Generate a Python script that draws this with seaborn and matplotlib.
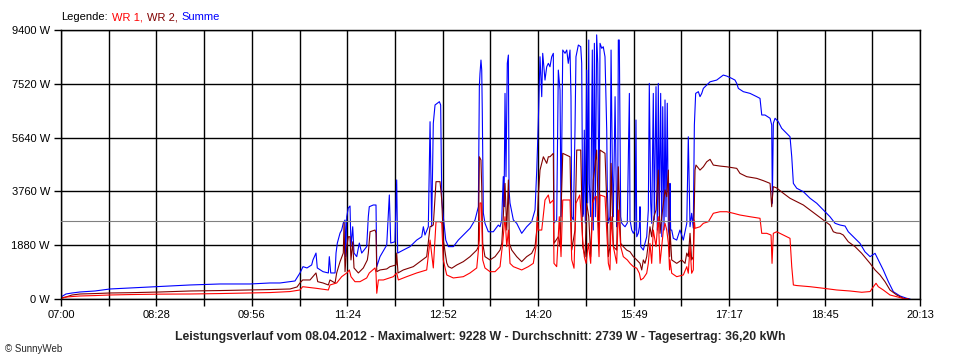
import numpy as np
import pandas as pd
import matplotlib
matplotlib.use("Agg")
import matplotlib.pyplot as plt
from matplotlib.offsetbox import TextArea, HPacker, AnchoredOffsetbox
import seaborn as sns

# AXIS DATA (time in minutes after 07:00)
time_labels = ["07:00", "08:28", "09:56", "11:24", "12:52",
               "14:20", "15:49", "17:17", "18:45", "20:13"]
day_minutes = 793
watt_ticks = [0, 1880, 3760, 5640, 7520, 9400]
avg_watt = 2739

title_text = ("Leistungsverlauf vom 08.04.2012 - Maximalwert: 9228 W - "
              "Durchschnitt: 2739 W - Tagesertrag: 36,20 kWh")

# SERIES (minute, watt)
summe = [
    (0, 70), (4.6, 175), (10.2, 210), (17.5, 245), (31.4, 280), (45.2, 350), (63.7, 385),
    (91.4, 435), (119.1, 490), (146.8, 525), (174.5, 525), (193, 560), (202.2, 560),
    (216, 630), (220.6, 910), (223.4, 1130), (227.1, 1085), (231.4, 1190), (232.6, 1365),
    (235.4, 1605), (236.6, 1085), (241.9, 955), (246.8, 910), (247.7, 1480), (249, 910),
    (253, 910), (253.9, 1605), (255.1, 1955), (257.6, 2305), (259.1, 2410), (260.6, 2655),
    (262.2, 2760), (262.8, 1480), (263.8, 2875), (265.2, 3180), (266.8, 3250), (267.7, 1830),
    (269.3, 2525), (270.5, 1605), (273, 1480), (275.4, 1955), (277.6, 1605), (282.2, 1830),
    (283.7, 2875), (284.6, 3225), (288.3, 3285), (290.8, 3285), (291.5, 1130), (294.5, 1480),
    (300.7, 1885), (303.1, 3635), (304.4, 1955), (308.3, 2000), (309.9, 4160), (310.8, 1605),
    (316, 1710), (322.2, 1830), (328.4, 2060), (333, 2175), (334.5, 2525), (336, 2235),
    (339.1, 2525), (340.7, 6195), (342.2, 2525), (343.7, 6140), (345.3, 6780), (349.3, 6895),
    (350.5, 6780), (351.5, 3460), (352.9, 2875), (355.2, 2060), (357.6, 1830), (362.2, 1830),
    (366.8, 2060), (371.4, 2235), (377.6, 2470), (382.2, 2760), (385.3, 3225), (386.2, 7420),
    (386.8, 7885), (387.7, 8350), (388.4, 8000), (388.9, 6605), (389.9, 3005), (391.4, 2645),
    (394.5, 2350), (399.1, 2350), (403.7, 2585), (405.3, 2525), (406.9, 2760), (407.4, 3355),
    (408.3, 4275), (409, 3225), (409.9, 7185), (410.8, 4275), (412, 8235), (413, 8525),
    (413.6, 3810), (414.5, 3355), (417.6, 2760), (420.7, 2645), (425.3, 2295), (429.9, 2525),
    (434.5, 2700), (437.6, 3110), (439.2, 4505), (440.6, 6140), (442.2, 8465), (443.8, 7070),
    (444.7, 8585), (446.8, 7650), (448.4, 8115), (449.9, 8235), (451.4, 8115), (453, 8465),
    (454.5, 8585), (455.1, 2655), (457.6, 2760), (459.1, 8000), (460.7, 7300), (461.6, 2875),
    (463.2, 8700), (465.3, 8585), (466.9, 8700), (468.3, 8235), (469.9, 8700), (470.8, 7070),
    (471.5, 2875), (473, 2760), (474.5, 5900), (475.4, 8465), (477.6, 8875), (479.8, 8815),
    (480.7, 8235), (481.6, 2875), (482.2, 3005), (483.1, 5900), (484, 2655), (485.3, 8000),
    (486.2, 3355), (487.2, 9050), (487.7, 4040), (489, 2875), (490.5, 8700), (491.4, 2410),
    (492.4, 8935), (493.3, 2875), (494.5, 9230), (495.5, 8235), (496.7, 2875), (497.6, 8935),
    (499.2, 8760), (500.6, 8815), (502.2, 8465), (503.8, 5900), (504.3, 3925), (505.3, 2655),
    (506.8, 2875), (507.8, 8700), (509, 4505), (509.9, 2875), (511.5, 7070), (513, 2525),
    (513.9, 2875), (514.5, 9050), (515.4, 9050), (516.7, 2875), (517.6, 2655), (519.1, 2585),
    (520.7, 2525), (522.8, 2655), (524.7, 7185), (525.3, 2760), (526.9, 2410), (528.4, 2295),
    (529.9, 2410), (530.8, 6255), (531.5, 2175), (533, 2305), (533.9, 2525), (534.5, 3225),
    (535.2, 1830), (537.6, 1710), (539.1, 1945), (540.7, 2175), (542.2, 3110), (543.1, 7535),
    (544.4, 3345), (545.3, 2645), (546.8, 7185), (547.7, 2760), (549.3, 7420), (550.5, 2410),
    (551.4, 7535), (552.3, 2875), (553.6, 7185), (554.6, 2175), (555.5, 6720), (556.7, 2410),
    (557.6, 6955), (558.5, 2875), (559.7, 6840), (560.7, 2410), (561.8, 2175), (562.2, 4040),
    (562.8, 2410), (563.8, 2410), (565.3, 2120), (568.4, 2060), (571.4, 2410), (574.5, 2060),
    (577.7, 2645), (579.1, 5670), (580.7, 2525), (582.2, 2995), (583.7, 2480), (584.7, 6080),
    (585.9, 7185), (588.4, 7245), (589.9, 7070), (591.5, 7185), (593, 7360), (596.1, 7475),
    (599.2, 7590), (605.3, 7650), (611.4, 7825), (614.6, 7790), (619.2, 7710), (622.2, 7650),
    (623.8, 7535), (625.3, 7360), (629.9, 7245), (636.1, 7185), (642.3, 7070), (645.3, 7010),
    (646.9, 6430), (649.9, 6430), (654.6, 6315), (656.1, 6080), (656.7, 3345), (657.6, 6140),
    (659.2, 6315), (662.2, 6195), (665.3, 5965), (668.4, 5845), (673, 5670), (674.6, 4970),
    (676.1, 4040), (679.2, 3870), (685.3, 3750), (691.5, 3520), (697.7, 3345), (703.8, 3110),
    (709.9, 2875), (714.6, 2645), (719.2, 2585), (723.8, 2550), (726.8, 2350), (731.5, 2175),
    (737.6, 1945), (742.2, 1650), (746.9, 1480), (751.5, 1595), (754.5, 1365), (759.1, 1015),
    (763.8, 605), (768.4, 255), (774.6, 105), (780.7, 25), (783.8, 0),
]

wr2 = [
    (0, 35), (4.6, 70), (10.2, 140), (17.5, 175), (31.4, 190), (45.2, 210), (63.7, 220),
    (91.4, 245), (119.1, 280), (146.8, 295), (174.5, 315), (193, 330), (211.4, 350),
    (217.9, 420), (220.6, 560), (223.1, 665), (229.9, 665), (235.4, 910), (237, 605),
    (241.9, 560), (246.8, 490), (248.3, 665), (253, 560), (254.5, 910), (257.6, 1305),
    (260.6, 1605), (261.3, 2655), (262.2, 955), (263.8, 1830), (265.2, 2175), (266.8, 2175),
    (267.7, 1365), (269.3, 2000), (270.5, 1085), (274.5, 910), (279.1, 1085), (282.8, 1365),
    (283.7, 1605), (285.3, 2350), (289.9, 2410), (290.8, 2305), (291.5, 955), (294.5, 1015),
    (300.7, 1050), (303.7, 1130), (309.3, 1190), (309.9, 1605), (311.1, 910), (316, 1015),
    (325.2, 1130), (331.4, 1305), (337.6, 1480), (340.7, 2525), (343.7, 2585), (346.2, 4100),
    (349.9, 4100), (351.5, 3460), (352.9, 2060), (356.1, 1260), (357.6, 1130), (360.7, 1075),
    (365.4, 1190), (371.4, 1305), (377.6, 1480), (383.8, 1710), (385.3, 1830), (386.2, 4970),
    (387.7, 4855), (388.4, 3925), (389.3, 1945), (391.4, 1480), (396, 1365), (400.7, 1480),
    (405.3, 1710), (406.9, 1945), (408.3, 2875), (409.9, 4040), (411.5, 2410), (413, 4160),
    (413.9, 1945), (416.1, 1710), (420.7, 1480), (425.3, 1305), (429.9, 1480), (434.5, 1595),
    (437.6, 1830), (439.2, 2410), (440.6, 3575), (442.2, 4505), (445.3, 4970), (448.4, 4740),
    (449.9, 4970), (451.4, 4970), (454.5, 5090), (455.1, 1945), (459.1, 2175), (460.7, 1830),
    (463.2, 5090), (469.9, 4970), (471.5, 1710), (474.5, 2410), (476.1, 5205), (479.8, 5205),
    (481.6, 1830), (483.8, 1480), (485.3, 3345), (487.2, 2875), (489, 1480), (491.4, 4160),
    (494.5, 5205), (496.7, 1945), (497.6, 5205), (502.2, 5090), (504.3, 2875), (505.3, 1480),
    (506.8, 1830), (507.8, 4740), (509.9, 1830), (513, 1710), (514.5, 4620), (516.7, 1945),
    (519.1, 1830), (522.2, 1710), (525.3, 1650), (528.4, 1480), (531.5, 1365), (534.5, 1245),
    (536.1, 1015), (537.6, 1365), (539.1, 1245), (540.7, 1480), (542.2, 1945), (543.7, 2525),
    (545.3, 2175), (547.4, 2875), (549.3, 3110), (551.4, 4505), (553, 2295), (554.6, 2875),
    (556.1, 3345), (557.6, 3810), (559.2, 3575), (560.7, 4505), (561.8, 1480), (562.2, 2410),
    (563.8, 1365), (568.4, 1245), (573, 1365), (576.1, 1245), (577.7, 1605), (579.1, 1480),
    (580.7, 2295), (582.2, 1365), (583.7, 1480), (585.3, 4505), (586.2, 4680), (589.9, 4505),
    (593, 4620), (596.1, 4795), (599.2, 4880), (602.2, 4680), (608.4, 4645), (614.6, 4620),
    (623.8, 4565), (626.8, 4390), (633, 4275), (642.3, 4215), (648.4, 4135), (654.6, 4040),
    (656.1, 3225), (657.6, 3925), (660.7, 3880), (666.8, 3695), (673, 3520), (679.2, 3400),
    (685.3, 3285), (691.5, 3110), (697.7, 2935), (703.8, 2760), (709.9, 2585), (713, 2350),
    (716.1, 2305), (719.2, 2295), (722.2, 2235), (726.8, 2000), (733, 1830), (739.2, 1595),
    (746.9, 1245), (751.5, 1015), (756.1, 840), (760.7, 605), (765.3, 315), (771.5, 140),
    (777.6, 25), (782.2, 0),
]

wr1 = [
    (0, 15), (4.6, 70), (10.2, 85), (17.5, 105), (31.4, 120), (45.2, 140), (63.7, 155),
    (91.4, 170), (119.1, 175), (146.8, 190), (174.5, 210), (193, 225), (211.4, 260),
    (220.6, 315), (223.1, 430), (229.9, 400), (235.4, 375), (246.8, 315), (248.3, 490),
    (254.5, 560), (259.1, 780), (263.8, 910), (266.2, 1015), (267.7, 780), (271.4, 605),
    (276, 605), (282.2, 735), (284.6, 910), (289.9, 1085), (290.8, 910), (291.5, 200),
    (293, 665), (297.6, 665), (306.8, 780), (309.9, 910), (311.4, 665), (319.1, 780),
    (328.4, 910), (337.6, 1015), (340.7, 2060), (343.7, 1085), (346.2, 2700), (349.9, 2700),
    (351.5, 2655), (352.9, 1365), (356.1, 840), (362.2, 735), (371.4, 780), (377.6, 910),
    (383.8, 1085), (386.2, 2060), (386.8, 3355), (388, 3355), (389.3, 1365), (391.4, 1085),
    (396, 955), (400.7, 955), (405.3, 1130), (407.7, 1945), (409.9, 2875), (411.5, 1830),
    (413, 2410), (414.5, 1245), (417.6, 1130), (425.3, 1015), (431.4, 1130), (436, 1245),
    (438.5, 1830), (439.7, 2875), (440.6, 2410), (443.8, 2410), (446.8, 3460), (449.9, 3635),
    (451.4, 3345), (454.5, 3460), (455.1, 1245), (457.6, 1130), (460, 2875), (461.6, 1480),
    (463.2, 3460), (469.9, 3460), (471.5, 1365), (473.6, 1075), (475.4, 3345), (478.9, 3635),
    (481.6, 2060), (483.1, 1480), (484.7, 1245), (486.8, 1945), (489, 1245), (490.8, 3345),
    (493, 3575), (494.5, 3575), (496.7, 1480), (497.6, 3635), (502.2, 3575), (504.3, 1945),
    (505.3, 1245), (506.8, 1015), (507.8, 2875), (509.9, 1830), (513, 1245), (514.5, 3110),
    (516.7, 1830), (519.1, 1480), (522.8, 1365), (525.3, 1245), (528.4, 1130), (531.5, 1075),
    (533.9, 900), (535.2, 665), (537.6, 725), (540.7, 900), (542.2, 1245), (543.7, 1945),
    (545.3, 1245), (546.8, 2410), (549.3, 1830), (551.4, 2875), (553, 1245), (556.1, 2410),
    (557.6, 2645), (559.2, 2410), (560.7, 1945), (561.8, 1015), (562.2, 1365), (563.8, 900),
    (568.4, 780), (574.5, 840), (577.7, 1130), (579.1, 900), (580.7, 1830), (582.2, 900),
    (583.7, 1015), (584.7, 2760), (585.3, 2470), (589.9, 2525), (593, 2645), (597.6, 2700),
    (602.2, 2995), (608.4, 3050), (614.6, 3050), (620.8, 2995), (626.8, 2935), (636.1, 2875),
    (645.3, 2820), (646.9, 2295), (651.5, 2295), (655.5, 2235), (656.4, 1245), (657.6, 2295),
    (660.7, 2350), (666.8, 2235), (673, 2120), (674.6, 1130), (676.1, 490), (679.2, 470),
    (691.5, 430), (703.8, 375), (716.1, 315), (728.4, 280), (739.2, 235), (746.9, 260),
    (750, 430), (752.4, 550), (754.5, 430), (759.1, 315), (765.3, 140), (771.5, 80),
    (779.2, 0), (782.2, 0),
]

series_colors = {"Summe": "#0000ff", "WR 2": "#800000", "WR 1": "#ff0000"}

frames = []
for name, points in [("Summe", summe), ("WR 2", wr2), ("WR 1", wr1)]:
    part = pd.DataFrame(points, columns=["minute", "watt"])
    part["series"] = name
    frames.append(part)
df = pd.concat(frames, ignore_index=True)

# STYLE
sns.set_style("white")
plt.rcParams['font.family'] = ['Liberation Sans', 'DejaVu Sans']

fig = plt.figure(figsize=(9.6, 3.6), dpi=100)
ax = fig.add_axes([61 / 960, 1 - 299 / 360, (920 - 61) / 960, (299 - 30) / 360])

sns.lineplot(
    data=df, x="minute", y="watt", hue="series",
    hue_order=["Summe", "WR 2", "WR 1"], palette=series_colors,
    estimator=None, sort=False, linewidth=0.8, legend=False, ax=ax
)

ax.axhline(avg_watt, color="#808080", linewidth=0.8, zorder=3)

# AXES
ax.set_xlim(0, day_minutes)
ax.set_ylim(0, watt_ticks[-1])

xticks = np.linspace(0, day_minutes, 2 * len(time_labels) - 1)
xlabels = []
for i in range(len(xticks)):
    xlabels.append(time_labels[i // 2] if i % 2 == 0 else "")
ax.set_xticks(xticks)
ax.set_xticklabels(xlabels)
ax.set_yticks(watt_ticks)
ax.set_yticklabels([f"{w} W" for w in watt_ticks])

ax.set_xlabel("")
ax.set_ylabel("")
ax.grid(True, color="black", linewidth=1)
ax.set_axisbelow(True)
for s in ax.spines.values():
    s.set_color("black")
    s.set_linewidth(1)

ax.tick_params(axis="both", direction="out", length=5, width=1,
               color="black", labelsize=8, pad=3, labelcolor="black",
               bottom=True, left=True)

# LEGEND TEXT
legend_parts = [("Legende:", "black"), ("WR 1,", "#ff0000"),
                ("WR 2,", "#800000"), ("Summe", "#0000ff")]
areas = [TextArea(t, textprops=dict(color=c, fontsize=8)) for t, c in legend_parts]
packed = HPacker(children=areas, align="baseline", pad=0, sep=3)
anchored = AnchoredOffsetbox(loc="lower left", child=packed, pad=0, borderpad=0,
                             frameon=False, bbox_to_anchor=(61 / 960, 1 - 22 / 360),
                             bbox_transform=fig.transFigure)
fig.add_artist(anchored)

# TITLE AND FOOTER
fig.text(480 / 960, 1 - 340 / 360, title_text, fontsize=8.8, fontweight="bold",
         ha="center", va="baseline")
fig.text(5 / 960, 1 - 352 / 360, "\u00a9 SunnyWeb", fontsize=7, va="baseline")

fig.savefig("out.png", dpi=100, facecolor="white")
